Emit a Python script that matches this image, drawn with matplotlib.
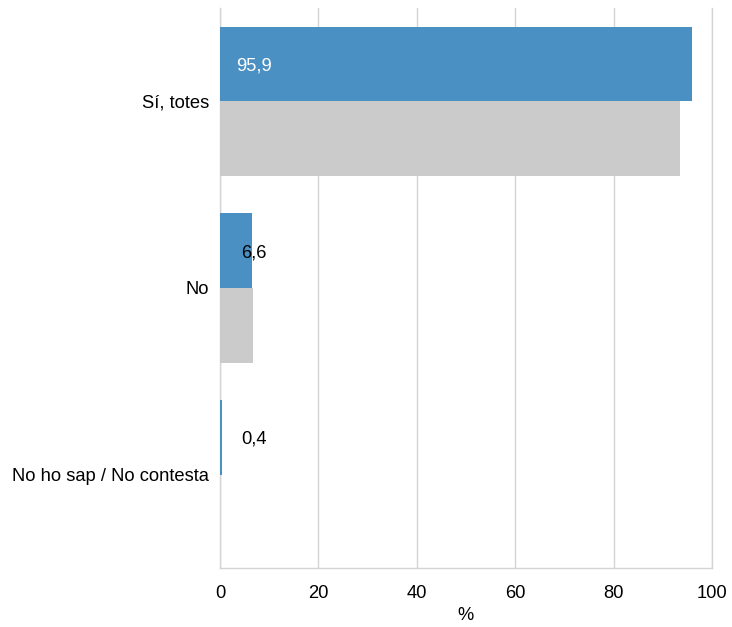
import matplotlib
matplotlib.use("Agg")
import matplotlib.pyplot as plt
import numpy as np

plt.rcParams['font.family'] = ['Liberation Sans', 'DejaVu Sans']

categories = ["Sí, totes", "No", "No ho sap / No contesta"]
series_blue = [95.9, 6.6, 0.4]
series_gray = [93.4, 6.7, 0.0]
blue_labels = ["95,9", "6,6", "0,4"]
xticks = [0, 20, 40, 60, 80, 100]

fs = 13.2
fig = plt.figure(figsize=(7.32, 6.27), dpi=100)
ax = fig.add_axes([220/732, 59/627, 492/732, 560/627])

y = np.arange(len(categories))
h = 0.4
ax.barh(y - h/2, series_blue, height=h, color="#4a90c2", zorder=3)
ax.barh(y + h/2, series_gray, height=h, color="#cbcbcb", zorder=3)

for i, (v, lab) in enumerate(zip(series_blue, blue_labels)):
    col = "white" if v > 20 else "black"
    ax.text(6.9, y[i] - h/2 + 0.01, lab, ha="center", va="center", fontsize=fs,
            color=col, zorder=4)

ax.set_xlim(0, 100)
ax.set_ylim(2.5, -0.5)
ax.set_xticks(xticks)
ax.set_xticklabels([str(t) for t in xticks], fontsize=fs)
ax.set_yticks(y)
ax.set_yticklabels(categories, fontsize=fs)
ax.tick_params(axis="both", length=0)
ax.tick_params(axis="x", pad=12)
ax.tick_params(axis="y", pad=8)
ax.set_xlabel("%", fontsize=fs, labelpad=4)

ax.grid(axis="x", color="#d4d4d4", linewidth=1, zorder=0)
ax.spines["top"].set_visible(False)
for s in ["left", "bottom", "right"]:
    ax.spines[s].set_color("#d4d4d4")
    ax.spines[s].set_linewidth(1)

fig.savefig("out.png", dpi=100)
